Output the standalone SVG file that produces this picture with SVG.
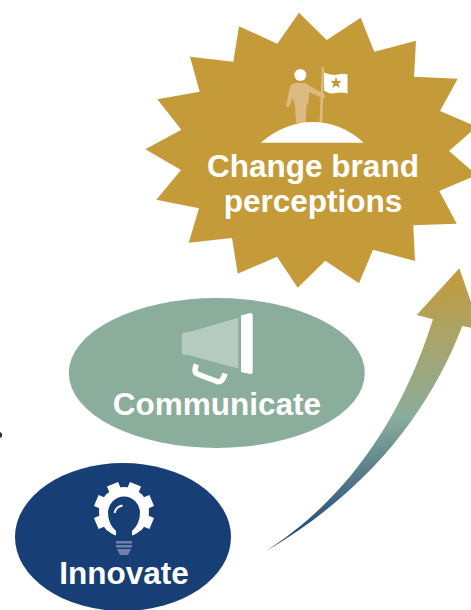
<svg xmlns="http://www.w3.org/2000/svg" width="471" height="610" viewBox="0 0 471 610">
<style>
.lbl{font-family:"Liberation Sans",Arial,sans-serif;font-weight:700;font-size:31.500px;fill:#fff;text-anchor:middle}
.w{fill:#fff}
.tan{fill:#DDBB80}
.gold{fill:#C59B3A}
.navy{fill:#173F75}
</style>
<defs>
<linearGradient id="arrowGrad" gradientUnits="userSpaceOnUse" x1="440" y1="272" x2="470" y2="525">
<stop offset="0" stop-color="#C59B3A"/>
<stop offset="0.55" stop-color="#8AAD9C"/>
<stop offset="1" stop-color="#173F75"/>
</linearGradient>
</defs>
<rect width="471" height="610" fill="#fff"/>
<g id="connectors">
<path id="growth-arrow" fill="url(#arrowGrad)" d="M265 551.700C330 510 395 440 433 319.300L416.700 315L459.300 268.300L472 305L474 328.500L462.300 326C430 410 370 490 265 551.700Z"/>
</g>
<g id="node-dot"><circle cx="-1" cy="435" r="3.200" fill="#333"/></g>
<g id="node-change-brand">
<polygon class="gold" points="299,12.700 326.700,40 360.700,17.700 374.300,51.700 416,40.700 414,76.700 457.700,78.700 440,111 476.700,126.700 449,151 476.700,175 439.300,191 456.700,223.700 413.300,225.300 415,261 373,249.700 359,283.300 325.300,260.700 297.700,287.700 277,256.700 237.700,273.700 232,238 188.700,242.700 199,208.300 156.300,199.700 181,170 145.300,149.300 181.300,129.700 157.300,99.300 199.700,91.700 190,56.700 233.300,61.700 239,26.300 277.300,43.700"/>
<path class="tan" d="M322 67L324 67.200L322.300 122L319.500 122Z"/>
<path class="tan" d="M295 83L305 83L308 85L324.500 94.500Q326 97 324 98.500L309 92L308.500 103L306.500 105L305.500 123L296 123L295 105L292.500 98L289.500 106Q287.500 108 286 106L290 87Q291 84 295 83Z"/>
<circle class="w" cx="300.300" cy="75" r="6"/>
<path class="w" d="M324 72.500Q332 76 338 74.500Q343 73 347.500 74.500L347.500 93.500Q341 92 336 93Q329 94.500 324 90.500Z"/>
<polygon class="gold" points="336,77 337.500,81 341.500,81 338.500,83.700 339.700,88 336,85.500 332.300,88 333.500,83.700 330.500,81 334.500,81"/>
<path class="w" d="M260.700 142.700Q285 122 313 122Q341 122 363.700 142.700Z"/>
<text class="lbl" x="313" y="176.500">Change brand</text>
<text class="lbl" x="313" y="211.500">perceptions</text>
</g>
<g id="node-communicate">
<ellipse cx="216.800" cy="373" rx="148" ry="75" fill="#8AAD9C"/>
<path fill="#B5CBBF" d="M184 332.500L188 332.300L238.300 317.700L238.300 368.500L188 355L184 355Q181.700 354 181.700 350L181.700 337Q181.700 333 184 332.500Z"/>
<path class="w" d="M241 315.500L250 313Q252.700 313 252.700 315.500L252.700 372Q252.700 374.500 250 374L241 372Z"/>
<path d="M196.500 364.500Q193 372 197.500 374L217 381.500Q222.500 383 225 373.500" fill="none" stroke="#fff" stroke-width="5.500"/>
<text class="lbl" x="217" y="415">Communicate</text>
</g>
<g id="node-innovate">
<ellipse cx="123" cy="537" rx="108" ry="74" class="navy"/>
<g class="w">
<circle cx="124" cy="512" r="25"/>
<rect x="-6" y="-30" width="12" height="12" transform="translate(124 512) rotate(-22.500)"/>
<rect x="-6" y="-30" width="12" height="12" transform="translate(124 512) rotate(22.500)"/>
<rect x="-6" y="-30" width="12" height="12" transform="translate(124 512) rotate(-67.500)"/>
<rect x="-6" y="-30" width="12" height="12" transform="translate(124 512) rotate(67.500)"/>
<rect x="-6" y="-30" width="12" height="12" transform="translate(124 512) rotate(-112.500)"/>
<rect x="-6" y="-30" width="12" height="12" transform="translate(124 512) rotate(112.500)"/>
</g>
<path class="navy" d="M108 531L117 538L131 538L140 531L150 542L98 542Z"/>
<path class="navy" d="M116 538L116 531Q108 524 108 512.500A16 16 0 0 1 140 512.500Q140 524 132 531L132 538Z"/>
<path d="M114.500 513Q115.500 507 122.500 505.500" fill="none" stroke="#fff" stroke-width="1.800"/>
<path fill="#6F80AB" d="M116 541H132V543.500H116ZM116 545H132V547.500H116ZM117 549H131L128 555H120Z"/>
<text class="lbl" x="124" y="584">Innovate</text>
</g>
</svg>
